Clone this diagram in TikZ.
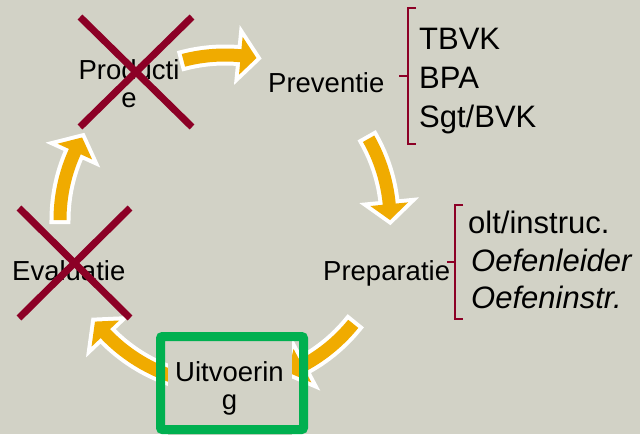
\documentclass[tikz,border=0pt]{standalone}
\usepackage{fontspec}
\setmainfont{Liberation Sans}
\definecolor{bg}{RGB}{210,210,198}
\definecolor{arr}{RGB}{240,171,0}
\definecolor{xred}{RGB}{140,0,38}
\definecolor{framegreen}{RGB}{0,176,80}
\newcommand{\cycarrowpath}[3]{plot[domain=#1:#2,samples=24] (\x:171.5) -- (#2:184) -- (#3:165) -- (#2:146) -- plot[domain=#2:#1,samples=24] (\x:158.5) -- cycle}
\newcommand{\cycarrow}[3]{%
  \draw[white, line width=8pt, fill=white, line join=miter] \cycarrowpath{#1}{#2}{#3};
  \fill[arr] \cycarrowpath{#1}{#2}{#3};}
\tikzset{
  lbl/.style={inner sep=0pt, font=\fontsize{27.5}{28}\selectfont},
  lst/.style={inner sep=0pt, anchor=base west, font=\fontsize{31}{39}\selectfont},
  crossline/.style={xred, line width=7pt},
  bracketline/.style={xred, line width=2.5pt, line join=miter}
}
\begin{document}
\begin{tikzpicture}[x=1pt, y=-1pt]
\useasboundingbox (0,0) rectangle (640,434);
\fill[bg] (0,0) rectangle (640,434);
% cycle arrows
\begin{scope}[shift={(225,220)}]
  \cycarrow{-104.6}{-84.5}{-79}
  \cycarrow{-29.5}{-5.5}{0}
  \cycarrow{39}{62}{67.5}
  \cycarrow{108}{136.5}{142}
  \cycarrow{180}{204.5}{210}
\end{scope}
% labels
\node[lbl, anchor=base west] (prev) at (268,92) {Preventie};
\node[lbl, anchor=base west] (prep) at (323,280) {Preparatie};
\node[lbl, anchor=base west] (eval) at (12,280) {Evaluatie};
\node[lbl, align=center] (prod) at (129,84) {Producti\\e};
\node[lbl, align=center, fill=bg, minimum width=124, minimum height=100] (uitv) at (229.5,388.5) {Uitvoerin\\g};
\node[draw=framegreen, line width=9pt, rounded corners=2pt, inner sep=0pt, minimum width=143, minimum height=93] (frame) at (232,383) {};
% crosses
\draw[crossline] (80,17) -- (192,127);
\draw[crossline] (192,17) -- (80,127);
\draw[crossline] (19,208) -- (130,318);
\draw[crossline] (130,208) -- (19,318);
% lists
\node[lst] (l1) at (419,49) {TBVK};
\node[lst] (l2) at (419,88) {BPA};
\node[lst] (l3) at (419,127) {Sgt/BVK};
\node[lst] (m1) at (468,233) {olt/instruc.};
\node[lst] (m2) at (471,271) {\itshape Oefenleider};
\node[lst] (m3) at (471,308) {\itshape Oefeninstr.};
% brackets
\draw[bracketline] (416,8) -- (408,8) -- (408,144) -- (416,144);
\draw[bracketline] (408,76) -- (399,76);
\draw[bracketline] (463,205) -- (455,205) -- (455,319) -- (463,319);
\draw[bracketline] (455,262) -- (447,262);
\end{tikzpicture}
\end{document}
